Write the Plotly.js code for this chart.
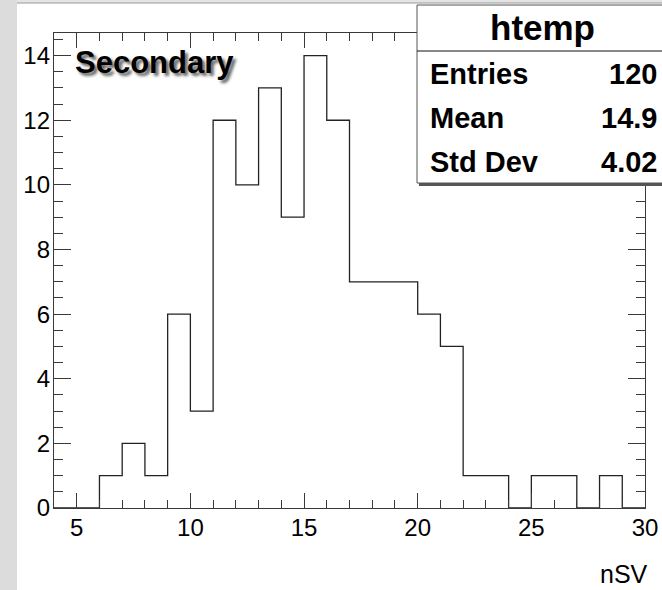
<!DOCTYPE html>
<html>
<head>
<meta charset="utf-8">
<script src="https://cdn.plot.ly/plotly-3.0.1.min.js"></script>
<style>html,body{margin:0;padding:0;background:#fff;}#chart{width:662px;height:590px;}</style>
</head>
<body>
<div id="chart"></div>
<script>
// ---- data ----
const binLowEdges = [4,5,6,7,8,9,10,11,12,13,14,15,16,17,18,19,20,21,22,23,24,25,26,27,28,29];
const binWidth = 1;
const counts = [0,0,1,2,1,6,3,12,10,13,9,14,12,7,7,7,6,5,1,1,0,1,1,0,1,0];
const histName = "htemp";
const statLabels = ["Entries", "Mean", "Std Dev"];
const statValues = ["120", "14.9", "4.02"];
const xTitle = "nSV";
const panelLabel = "Secondary";

// step outline through the bin edges
const xs = binLowEdges.concat([binLowEdges[binLowEdges.length - 1] + binWidth]);
const ys = counts.concat([counts[counts.length - 1]]);

// plot-area geometry in pixels
const L = 54, R = 645, T = 33, B = 508;
const W = 662, H = 590;
const px = x => (x - L) / (R - L);
const py = y => (B - y) / (B - T);

const FONT = "Liberation Sans, Arial, Helvetica, sans-serif";
const axisCol = "#3a3a3a";

const trace = {
  type: "scatter", mode: "lines", x: xs, y: ys,
  line: {shape: "hv", color: "#222", width: 1.3},
  hoverinfo: "skip", showlegend: false
};

const shapes = [
  // grey window strips
  {type: "rect", xref: "paper", yref: "paper", x0: px(0), x1: px(17), y0: py(H), y1: py(0),
   fillcolor: "#dcdcdc", line: {width: 0}, layer: "above"},
  {type: "rect", xref: "paper", yref: "paper", x0: px(17), x1: px(W), y0: py(3), y1: py(0),
   fillcolor: "#e4e4e4", line: {width: 0}, layer: "above"},
  {type: "line", xref: "paper", yref: "paper", x0: px(17), x1: px(W), y0: py(3), y1: py(3),
   line: {color: "#9a9a9a", width: 1}, layer: "above"},
  // stats box shadow
  {type: "rect", xref: "paper", yref: "paper", x0: px(419), x1: px(W + 10), y0: py(186), y1: py(8),
   fillcolor: "#555", line: {width: 0}, layer: "above"},
  // stats box
  {type: "rect", xref: "paper", yref: "paper", x0: px(417), x1: px(W + 10), y0: py(183), y1: py(5),
   fillcolor: "#ffffff", line: {color: "#555", width: 1}, layer: "above"},
  {type: "line", xref: "paper", yref: "paper", x0: px(417), x1: px(W + 10), y0: py(51), y1: py(51),
   line: {color: "#111", width: 1.2}, layer: "above"}
];

const annotations = [
  {text: histName, xref: "paper", yref: "paper", x: px(542), y: py(28), xanchor: "center", yanchor: "middle",
   showarrow: false, font: {family: FONT, size: 35, color: "#000", weight: 700}},
  {text: xTitle, xref: "paper", yref: "paper", x: px(649), y: py(589), xanchor: "right", yanchor: "bottom",
   showarrow: false, borderpad: 0, font: {family: FONT, size: 25, color: "#000"}},
  {text: panelLabel, xref: "paper", yref: "paper", x: px(73), y: py(62), xanchor: "left", yanchor: "middle",
   showarrow: false, font: {family: FONT, size: 31, color: "#000", weight: 700, shadow: "3px 3px 3px #666"}}
];
const rowY = [74, 118, 162];
statLabels.forEach((lab, i) => {
  annotations.push({text: lab, xref: "paper", yref: "paper", x: px(428), y: py(rowY[i]), xanchor: "left", yanchor: "middle",
    showarrow: false, font: {family: FONT, size: 29, color: "#000", weight: 700}});
  annotations.push({text: statValues[i], xref: "paper", yref: "paper", x: px(659), y: py(rowY[i]), xanchor: "right", yanchor: "middle",
    showarrow: false, font: {family: FONT, size: 29, color: "#000", weight: 700}});
});

const layout = {
  width: W, height: H,
  margin: {l: L, r: W - R, t: T, b: H - B, pad: 0},
  paper_bgcolor: "#ffffff", plot_bgcolor: "#ffffff",
  showlegend: false,
  xaxis: {
    range: [4, 30], dtick: 5, tick0: 0, ticks: "inside", ticklen: 15, tickwidth: 1, tickcolor: axisCol,
    showline: true, linecolor: axisCol, linewidth: 1.2, mirror: "ticks",
    showgrid: false, zeroline: false, ticklabelstandoff: -2,
    tickfont: {family: FONT, size: 24, color: "#000"},
    minor: {dtick: 1, tick0: 0, ticks: "inside", ticklen: 8, tickwidth: 1, tickcolor: axisCol, showgrid: false}
  },
  yaxis: {
    range: [0, 14.7], dtick: 2, tick0: 0, ticks: "inside", ticklen: 17, tickwidth: 1, tickcolor: axisCol,
    showline: true, linecolor: axisCol, linewidth: 1.2, mirror: "ticks",
    showgrid: false, zeroline: false, ticklabelstandoff: -2,
    tickfont: {family: FONT, size: 24, color: "#000"},
    minor: {dtick: 0.5, tick0: 0, ticks: "inside", ticklen: 9, tickwidth: 1, tickcolor: axisCol, showgrid: false}
  },
  shapes: shapes,
  annotations: annotations
};

Plotly.newPlot("chart", [trace], layout, {staticPlot: true, displayModeBar: false});
</script>
</body>
</html>
